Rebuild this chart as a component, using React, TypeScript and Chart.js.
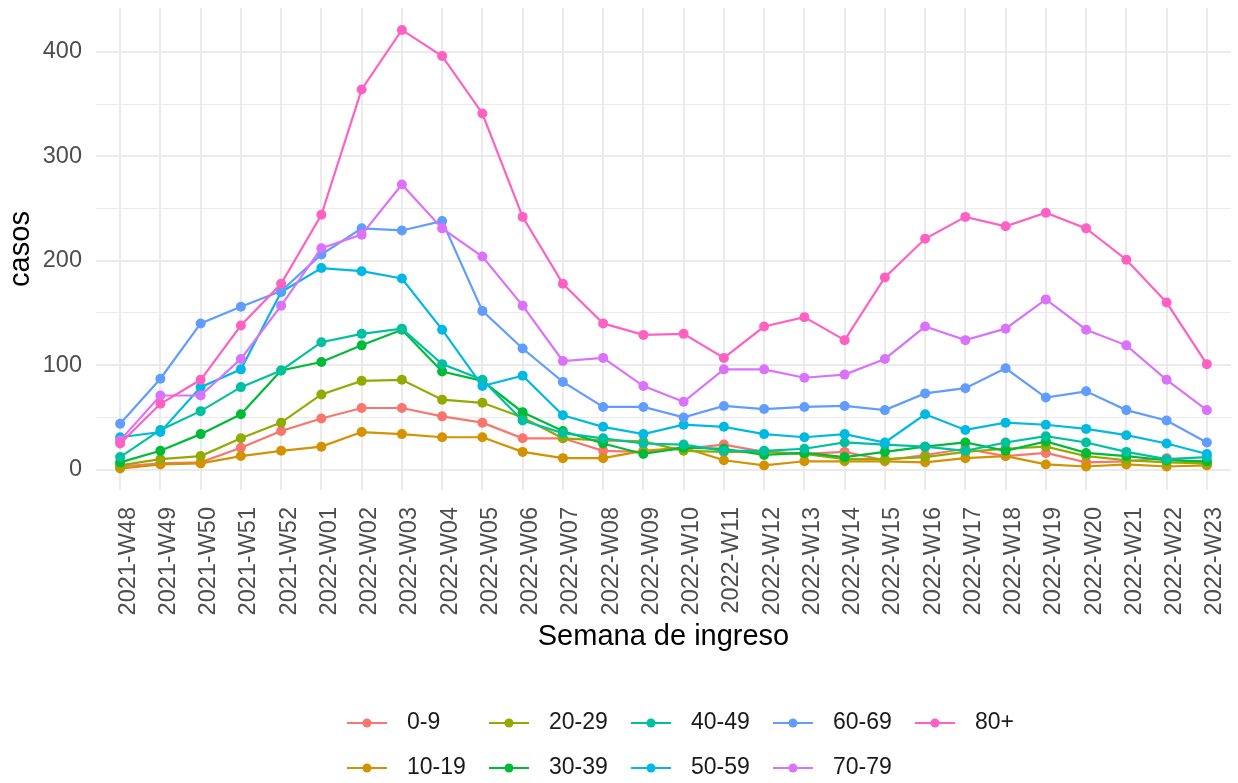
import React, { useEffect, useRef } from 'react';
import { Chart, registerables } from 'chart.js';

Chart.register(...registerables);

const FONT = "'Liberation Sans', Arial, Helvetica, sans-serif";

const weeks = [
  '2021-W48', '2021-W49', '2021-W50', '2021-W51', '2021-W52',
  '2022-W01', '2022-W02', '2022-W03', '2022-W04', '2022-W05', '2022-W06',
  '2022-W07', '2022-W08', '2022-W09', '2022-W10', '2022-W11', '2022-W12',
  '2022-W13', '2022-W14', '2022-W15', '2022-W16', '2022-W17', '2022-W18',
  '2022-W19', '2022-W20', '2022-W21', '2022-W22', '2022-W23',
];

const groups = ['0-9', '10-19', '20-29', '30-39', '40-49', '50-59', '60-69', '70-79', '80+'];

const colors = ['#F8766D', '#D39200', '#93AA00', '#00BA38', '#00C19F', '#00B9E3', '#619CFF', '#DB72FB', '#FF61C3'];

const v0_9 = [3, 6, 7, 21, 37, 49, 59, 59, 51, 45, 30, 30, 18, 17, 20, 24, 17, 15, 17, 9, 14, 20, 13, 16, 7, 8, 11, 5];
const v10_19 = [1, 5, 6, 13, 18, 22, 36, 34, 31, 31, 17, 11, 11, 18, 21, 9, 4, 8, 8, 8, 7, 11, 13, 5, 3, 5, 3, 4];
const v20_29 = [4, 10, 13, 30, 45, 72, 85, 86, 67, 64, 50, 30, 28, 27, 18, 17, 17, 15, 10, 10, 12, 17, 20, 22, 13, 9, 7, 6];
const v30_39 = [7, 18, 34, 53, 95, 103, 119, 134, 94, 85, 55, 37, 25, 15, 21, 20, 14, 16, 12, 17, 22, 26, 18, 27, 16, 13, 9, 8];
const v40_49 = [12, 38, 56, 79, 95, 122, 130, 135, 101, 86, 47, 35, 30, 25, 24, 18, 18, 20, 26, 24, 22, 18, 26, 32, 26, 17, 10, 12];
const v50_59 = [31, 36, 79, 96, 170, 193, 190, 183, 134, 80, 90, 52, 41, 34, 43, 41, 34, 31, 34, 26, 53, 38, 45, 43, 39, 33, 25, 15];
const v60_69 = [44, 87, 140, 156, 171, 206, 231, 229, 238, 152, 116, 84, 60, 60, 50, 61, 58, 60, 61, 57, 73, 78, 97, 69, 75, 57, 47, 26];
const v70_79 = [28, 71, 71, 106, 157, 212, 225, 273, 231, 204, 157, 104, 107, 80, 65, 96, 96, 88, 91, 106, 137, 124, 135, 163, 134, 119, 86, 57];
const v80 = [25, 63, 86, 138, 178, 244, 364, 421, 396, 341, 242, 178, 140, 129, 130, 107, 137, 146, 124, 184, 221, 242, 233, 246, 231, 201, 160, 101];

const series = [v0_9, v10_19, v20_29, v30_39, v40_49, v50_59, v60_69, v70_79, v80];

const yTicks = [0, 50, 100, 150, 200, 250, 300, 350, 400];

const legendPlugin = {
  id: 'ggLegend',
  afterDraw(chart: any) {
    const ctx = chart.ctx;
    const ds = chart.data.datasets;
    ctx.save();
    ds.forEach((d: any, i: number) => {
      const col = Math.floor(i / 2);
      const row = i % 2;
      const x = 347 + col * 142;
      const y = 723 + row * 45;
      ctx.strokeStyle = d.borderColor;
      ctx.lineWidth = 2;
      ctx.beginPath();
      ctx.moveTo(x, y);
      ctx.lineTo(x + 40, y);
      ctx.stroke();
      ctx.fillStyle = d.borderColor;
      ctx.beginPath();
      ctx.arc(x + 20, y, 4.5, 0, Math.PI * 2);
      ctx.fill();
      ctx.fillStyle = '#1a1a1a';
      ctx.font = `23px ${FONT}`;
      ctx.textBaseline = 'middle';
      ctx.textAlign = 'left';
      ctx.fillText(d.label, x + 60, y);
    });
    ctx.restore();
  },
};

const noPad = (s: any) => {
  s.paddingTop = 0;
  s.paddingBottom = 0;
  s.paddingLeft = 0;
  s.paddingRight = 0;
};

export default function App() {
  const ref = useRef<HTMLCanvasElement | null>(null);

  useEffect(() => {
    if (!ref.current) return;
    const chart = new Chart(ref.current, {
      type: 'line',
      data: {
        datasets: groups.map((g, i) => ({
          label: g,
          data: series[i].map((v, j) => ({ x: j, y: v })),
          borderColor: colors[i],
          backgroundColor: colors[i],
          pointBackgroundColor: colors[i],
          pointBorderColor: colors[i],
          pointBorderWidth: 0,
          pointRadius: 5,
          borderWidth: 2.2,
          tension: 0,
          order: groups.length - i,
        })),
      },
      options: {
        responsive: false,
        animation: false,
        layout: { padding: { top: 8, right: 7, bottom: 123, left: 0 } },
        plugins: { legend: { display: false }, tooltip: { enabled: false } },
        scales: {
          x: {
            type: 'linear',
            min: -0.6,
            max: 27.6,
            afterBuildTicks: (s: any) => {
              s.ticks = weeks.map((_, i) => ({ value: i }));
            },
            afterFit: (s: any) => {
              s.height = 170;
              noPad(s);
            },
            border: { display: false },
            grid: { color: '#EBEBEB', lineWidth: 2, drawTicks: false },
            ticks: {
              autoSkip: false,
              maxRotation: 90,
              minRotation: 90,
              padding: 17,
              labelOffset: 8,
              color: '#4D4D4D',
              font: { family: FONT, size: 23.5 },
              callback: (v: any) => weeks[v as number],
            },
            title: {
              display: true,
              text: 'Semana de ingreso',
              color: '#000000',
              font: { family: FONT, size: 29 },
              padding: { top: 4, bottom: 6 },
            },
          },
          y: {
            min: -19.5,
            max: 442,
            afterBuildTicks: (s: any) => {
              s.ticks = yTicks.map((v) => ({ value: v }));
            },
            afterFit: (s: any) => {
              s.width = 96;
              noPad(s);
            },
            border: { display: false },
            grid: {
              color: '#EBEBEB',
              lineWidth: (c: any) => (c.tick && c.tick.value % 100 === 0 ? 2 : 1),
              drawTicks: false,
            },
            ticks: {
              padding: 14,
              color: '#4D4D4D',
              font: { family: FONT, size: 23.5 },
              callback: (v: any) => ((v as number) % 100 === 0 ? String(v) : ''),
            },
            title: {
              display: true,
              text: 'casos',
              color: '#000000',
              font: { family: FONT, size: 29 },
              padding: { top: 4, bottom: 0 },
            },
          },
        },
      },
      plugins: [legendPlugin],
    });
    return () => chart.destroy();
  }, []);

  return (
    <div style={{ position: 'absolute', left: 0, top: 0, width: 1238, height: 783, background: '#fff' }}>
      <canvas ref={ref} width={1238} height={783} />
    </div>
  );
}
